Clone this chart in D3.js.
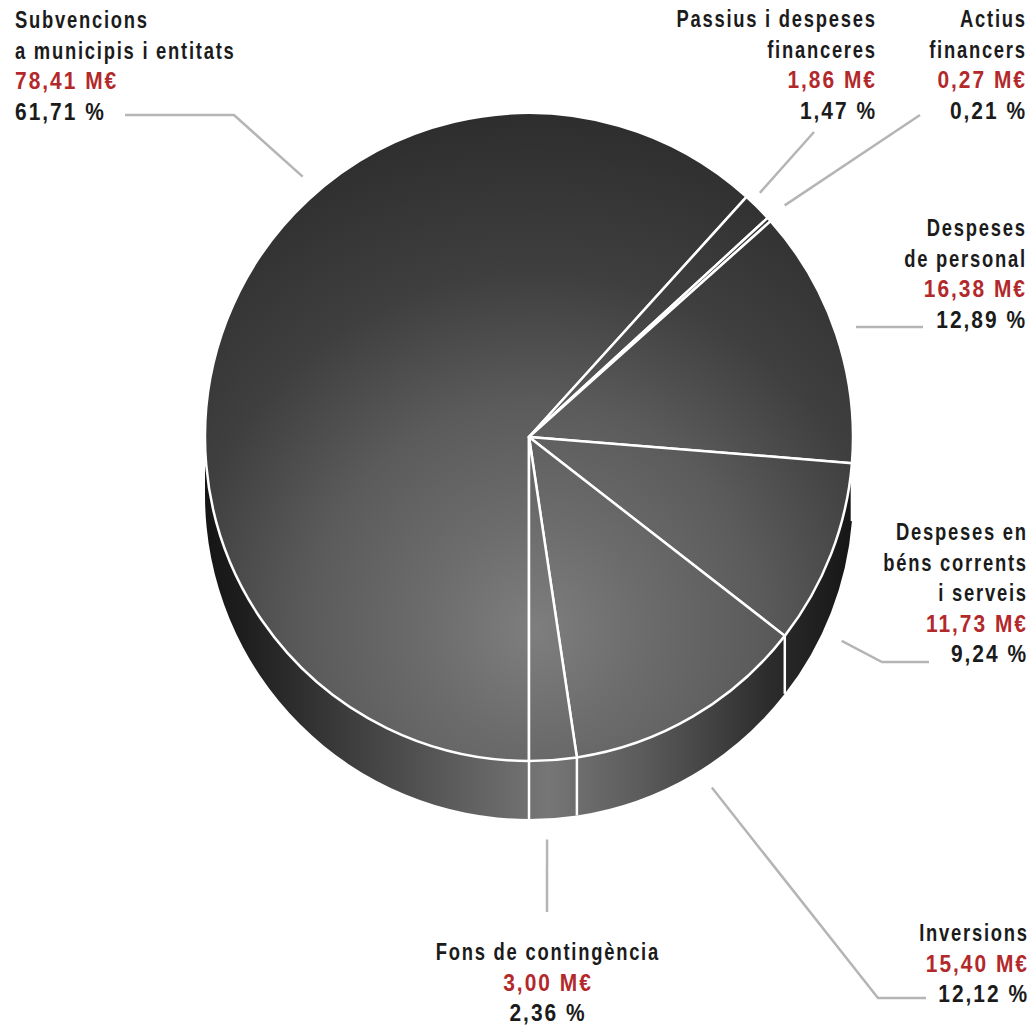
<!DOCTYPE html>
<html><head><meta charset="utf-8">
<script src="https://cdn.jsdelivr.net/npm/d3@7"></script>
<style>body{margin:0;background:#fff}svg{display:block}</style>
</head><body>
<svg id="c" width="1034" height="1029"></svg>
<script>
// ---- data ----
const categories = [
  ["Subvencions", "a municipis i entitats"],
  ["Passius i despeses", "financeres"],
  ["Actius", "financers"],
  ["Despeses", "de personal"],
  ["Despeses en", "béns corrents", "i serveis"],
  ["Inversions"],
  ["Fons de contingència"]
];
const amounts = [78.41, 1.86, 0.27, 16.38, 11.73, 15.40, 3.00];
const percents = [61.71, 1.47, 0.21, 12.89, 9.24, 12.12, 2.36];

// ---- label layout (positions only) ----
const labelLayout = [
  {anchor: "start", x: 15,   y: 28,  leader: [[234, 115], [125, 115]], angle: 319},
  {anchor: "end",   x: 875,  y: 27,  leader: [[814, 132]], angle: 43.4, r: 336},
  {anchor: "end",   x: 1025, y: 27,  leader: [[920, 115]]},
  {anchor: "end",   x: 1025, y: 236, leader: [[923, 327]]},
  {anchor: "end",   x: 1026, y: 540, leader: [[882, 662], [929, 662]], angle: 115},
  {anchor: "end",   x: 1027, y: 941, leader: [[878, 998], [926, 998]], angle: 148},
  {anchor: "middle",x: 547,  y: 960, leader: [[547, 912]], angle: 177}
];

const cx = 529, cy = 437, R = 324, depth = 58;
const lineH = 30.6;
const sxText = 0.8, sxNum = 0.91, spacing = 2.2;

const svg = d3.select("#c");
const defs = svg.append("defs");

const topGrad = defs.append("radialGradient").attr("id", "topGrad")
  .attr("gradientUnits", "userSpaceOnUse")
  .attr("cx", 535).attr("cy", 630).attr("r", 540);
[[0, "#7e7e7e"], [0.2, "#6c6c6c"], [0.42, "#5b5b5b"], [0.66, "#3f3f3f"], [1, "#2b2b2b"]]
  .forEach(([o, c]) => topGrad.append("stop").attr("offset", o).attr("stop-color", c));

const sideGrad = defs.append("linearGradient").attr("id", "sideGrad")
  .attr("gradientUnits", "userSpaceOnUse")
  .attr("x1", cx - R).attr("y1", 0).attr("x2", cx + R).attr("y2", 0);
[[0, "#151515"], [0.06, "#1e1e1e"], [0.17, "#333333"], [0.29, "#4a4a4a"], [0.4, "#5f5f5f"],
 [0.53, "#767676"], [0.67, "#5c5c5c"], [0.77, "#454545"], [0.87, "#2c2c2c"], [1, "#161616"]]
  .forEach(([o, c]) => sideGrad.append("stop").attr("offset", o).attr("stop-color", c));

const pie = d3.pie().sort(null).value(d => d)
  .startAngle(Math.PI).endAngle(3 * Math.PI);
const arcs = pie(amounts);

const pt = (a, rr, yc) => [cx + rr * Math.sin(a), yc - rr * Math.cos(a)];

// ---- sides ----
const visible = [[Math.PI / 2, 3 * Math.PI / 2], [5 * Math.PI / 2, 7 * Math.PI / 2]];
const sideG = svg.append("g");
arcs.forEach(d => {
  visible.forEach(([v0, v1]) => {
    const a0 = Math.max(d.startAngle, v0), a1 = Math.min(d.endAngle, v1);
    if (a1 <= a0) return;
    const p = d3.path();
    const s = pt(a0, R, cy);
    p.moveTo(s[0], s[1]);
    p.arc(cx, cy, R, a0 - Math.PI / 2, a1 - Math.PI / 2, false);
    const b = pt(a1, R, cy + depth);
    p.lineTo(b[0], b[1]);
    p.arc(cx, cy + depth, R, a1 - Math.PI / 2, a0 - Math.PI / 2, true);
    p.closePath();
    sideG.append("path").attr("d", p.toString()).attr("fill", "url(#sideGrad)");
  });
});
const bounds = arcs.map(d => d.endAngle).filter(a => Math.cos(a) < 0);
sideG.selectAll("line.b").data(bounds).join("line")
  .attr("x1", a => pt(a, R, cy)[0]).attr("y1", a => pt(a, R, cy)[1])
  .attr("x2", a => pt(a, R, cy + depth)[0]).attr("y2", a => pt(a, R, cy + depth)[1])
  .attr("stroke", "#fff").attr("stroke-width", 2.5);

// ---- top face ----
const topG = svg.append("g");
arcs.forEach(d => {
  const p = d3.path();
  p.moveTo(cx, cy);
  const s = pt(d.startAngle, R, cy);
  p.lineTo(s[0], s[1]);
  p.arc(cx, cy, R, d.startAngle - Math.PI / 2, d.endAngle - Math.PI / 2, false);
  p.closePath();
  topG.append("path").attr("d", p.toString()).attr("fill", "url(#topGrad)")
    .attr("stroke", "#fff").attr("stroke-width", 2.5).attr("stroke-linejoin", "round");
});

// ---- leaders ----
const lg = svg.append("g");
arcs.forEach((d, i) => {
  const L = labelLayout[i];
  const a = L.angle != null ? L.angle * Math.PI / 180 : (d.startAngle + d.endAngle) / 2;
  const yc = Math.cos(a) < 0 ? cy + depth : cy;
  const s = pt(a, L.r || 345, yc);
  lg.append("path").attr("d", d3.line()([s, ...L.leader]))
    .attr("fill", "none").attr("stroke", "#b5b5b5").attr("stroke-width", 2.5);
});

// ---- labels ----
const loc = d3.formatLocale({decimal: ",", thousands: ".", grouping: [3], currency: ["", "€"]});
const f2 = loc.format(".2f");
const tg = svg.append("g")
  .style("font-family", "'Liberation Sans','Arimo',Arial,sans-serif")
  .style("font-weight", "bold").style("font-size", "23px").style("letter-spacing", spacing + "px");
categories.forEach((lines, i) => {
  const L = labelLayout[i];
  const rows = [...lines.map(s => ({s, c: "#1b1b1b", k: sxText})),
                {s: f2(amounts[i]) + " M€", c: "#b3292b", k: sxNum},
                {s: f2(percents[i]) + " %", c: "#1b1b1b", k: sxNum}];
  rows.forEach((r, j) => {
    const shift = L.anchor === "end" ? spacing * r.k : (L.anchor === "middle" ? spacing * r.k / 2 : 0);
    tg.append("g").attr("transform", `translate(${L.x + shift},${L.y + j * lineH}) scale(${r.k},1)`)
      .append("text").attr("text-anchor", L.anchor).attr("fill", r.c).text(r.s);
  });
});
</script>
</body></html>
